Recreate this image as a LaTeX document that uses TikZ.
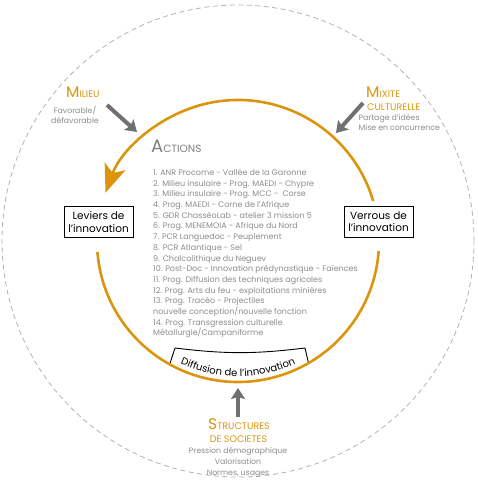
\documentclass[tikz,border=0pt]{standalone}
\usepackage{fontspec}
\setmainfont{Poppins}
\usepackage{tikz}
\usetikzlibrary{arrows.meta,positioning,calc,decorations.text}
\definecolor{cycleorange}{RGB}{220,148,12}
\definecolor{pushgray}{RGB}{110,112,114}
\definecolor{notegray}{RGB}{140,140,140}
\definecolor{ringgray}{RGB}{178,178,178}
\newcommand{\initcap}[2]{{\fontsize{15.5}{15.5}\selectfont #1}{\fontsize{9.5}{9.5}\selectfont #2}}
\newcommand{\capline}[1]{{\fontsize{9.5}{9.5}\selectfont #1}}
\tikzset{
  innobox/.style={
    draw,line width=0.9pt,fill=white,align=center,inner sep=1pt,
    minimum width=69pt,minimum height=31pt,font=\fontsize{10.5}{12.5}\selectfont
  },
  cycleline/.style={draw=cycleorange,line width=2.6pt},
  cyclearrow/.style={cycleline,-{Stealth[length=28pt,width=22pt,inset=7pt]}},
  pusharrow/.style={draw=pushgray,line width=4pt,-{Stealth[length=11pt,width=14pt,inset=2pt]}},
  ringline/.style={draw=ringgray,dashed,dash pattern=on 5pt off 3.5pt,line width=0.8pt},
  causetitle/.style={text=cycleorange,inner sep=0pt},
  causenote/.style={text=notegray,inner sep=0pt,font=\fontsize{7.8}{10.8}\selectfont},
  actionlist/.style={text=notegray,inner sep=0pt,align=left,font=\fontsize{8}{10.7}\selectfont}
}
\begin{document}
\begin{tikzpicture}[x=1pt,y=1pt]
  \useasboundingbox (0,0) rectangle (478,482);
  \coordinate (O) at (238,241);
  \draw[ringline] (O) circle[radius=236];

  \path (O) ++(241:141) coordinate (dl) (O) ++(300:141) coordinate (dr);
  \coordinate (dtl) at (175,134);
  \coordinate (dtr) at (305,134);
  \fill[white] (dl) -- (dtl) to[bend right=7] (dtr) -- (dr)
    arc[start angle=300,end angle=241,radius=141] -- cycle;
  \draw[line width=0.9pt] (dl) -- (dtl) to[bend right=7] (dtr) -- (dr);
  \path[decorate,decoration={text along path,text align=center,
      text={|\fontsize{10}{10}\selectfont|Diffusion de l’innovation}}]
    (O) ++(238:135.5) arc[start angle=238,end angle=302,radius=135.5];

  \draw[cyclearrow] (O) ++(16.5:141) arc[start angle=16.5,end angle=160,radius=141];
  \draw[cycleline] (O) ++(184.5:141) arc[start angle=184.5,end angle=356,radius=141];

  \node[innobox] (leviers) at (98.5,260) {Leviers de\\l’innovation};
  \node[innobox] (verrous) at (378.5,260.5) {Verrous de\\l’innovation};

  \node[anchor=base west,inner sep=0pt,text=notegray!90!black] (actiontitle) at (151,329)
    {{\fontsize{18}{18}\selectfont A}{\fontsize{10.5}{10.5}\selectfont CTIONS}};
  \node[actionlist,anchor=base west] (actions) at (153,146) {%
    1. ANR Procome - Vallée de la Garonne\\
    2. Milieu insulaire - Prog. MAEDI - Chypre\\
    3. Milieu insulaire - Prog. MCC -\ \ Corse\\
    4. Prog. MAEDI - Corne de l’Afrique\\
    5. GDR ChasséoLab - atelier 3 mission 5\\
    6. Prog. MENEMOIA - Afrique du Nord\\
    7. PCR Languedoc - Peuplement\\
    8. PCR Atlantique - Sel\\
    9. Chalcolithique du Neguev\\
    10. Post-Doc - Innovation prédynastique - Faïences\\
    11. Prog. Diffusion des techniques agricoles\\
    12. Prog. Arts du feu - exploitations minières\\
    13. Prog. Tracéo - Projectiles\\
    nouvelle conception/nouvelle fonction\\
    14. Prog. Transgression culturelle\\
    Métallurgie/Campaniforme};

  \node[causetitle,anchor=base west] (milieu) at (66,384) {\initcap{M}{ILIEU}};
  \node[causenote,align=center,anchor=base] (milieunote) at (75,358) {Favorable/\\défavorable};
  \coordinate (milieuend) at (137,350);
  \coordinate (milieustart) at (107,377);
  \draw[pusharrow] (milieustart) -- (milieuend);

  \node[causetitle,anchor=base west] (mixite) at (366,384) {\initcap{M}{IXITE}};
  \node[causetitle,anchor=base west] (mixite2) at (367,371) {\capline{CULTURELLE}};
  \node[causenote,align=left,anchor=base west] (mixitenote) at (358.5,351) {Partage d’idées\\Mise en concurrence};
  \coordinate (mixitestart) at (363,379);
  \coordinate (mixiteend) at (336,349);
  \draw[pusharrow] (mixitestart) -- (mixiteend);

  \node[causetitle,anchor=base] (struct) at (239,52) {\initcap{S}{TRUCTURES}};
  \node[causetitle,anchor=base] (struct2) at (238.5,39) {\capline{DE SOCIETES}};
  \node[causenote,align=center,anchor=base] (structnote) at (238,6.5) {Pression démographique\\Valorisation\\Normes, usages};
  \coordinate (structend) at (238,94);
  \draw[pusharrow] (struct.north -| structend) ++(0,2) -- (structend);
\end{tikzpicture}
\end{document}
